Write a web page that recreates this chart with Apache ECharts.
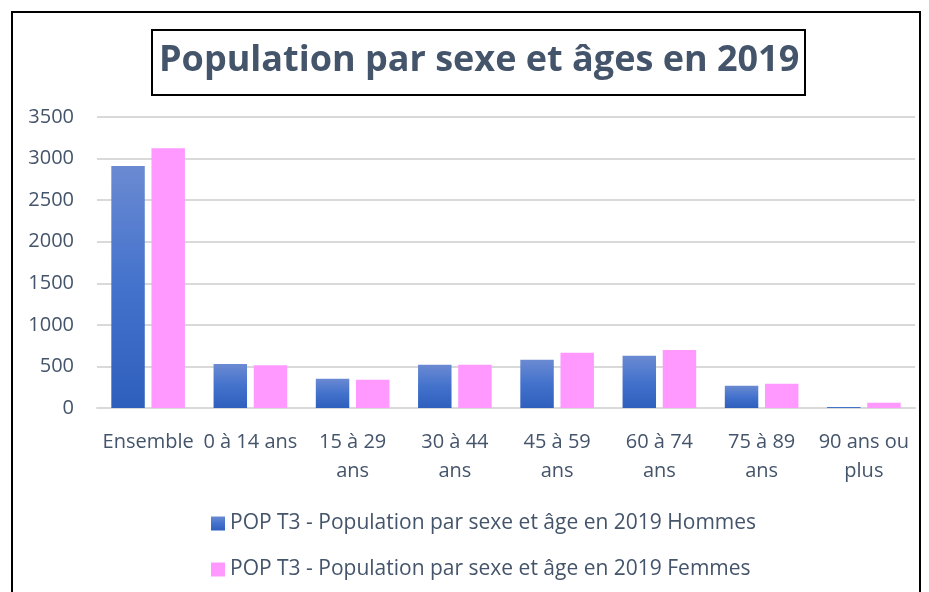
<!DOCTYPE html>
<html lang="fr">
<head>
    <meta charset="UTF-8">
    <script src="https://cdn.jsdelivr.net/npm/echarts@6/dist/echarts.min.js"></script>
    <title>Population par sexe et âges en 2019</title>
    <style>
        html, body { margin: 0; padding: 0; background: #fff; }
        #main { width: 929px; height: 592px; }
    </style>
</head>
<body>
<div id="main"></div>
<script>
    // données
    var categories = ['Ensemble', '0 à 14 ans', '15 à 29\nans', '30 à 44\nans', '45 à 59\nans', '60 à 74\nans', '75 à 89\nans', '90 ans ou\nplus'];
    var hommes = [2912, 529, 353, 521, 581, 629, 268, 12];
    var femmes = [3125, 514, 341, 519, 666, 698, 292, 64];
    var seriesNames = [
        'POP T3 - Population par sexe et âge en 2019 Hommes',
        'POP T3 - Population par sexe et âge en 2019 Femmes'
    ];

    var myChart = echarts.init(document.getElementById('main'));
    var font = 'Open Sans';

    var option = {
        animation: false,
        textStyle: { fontFamily: font },
        graphic: [
            {
                type: 'rect',
                shape: { x: 12, y: 12, width: 908, height: 600 },
                style: { fill: 'none', stroke: '#000', lineWidth: 2 },
                z: -1
            }
        ],
        title: {
            text: 'Population par sexe et âges en 2019',
            left: 152,
            top: 30,
            padding: [13, 6, 16, 7],
            borderColor: '#000',
            borderWidth: 2,
            backgroundColor: '#fff',
            textStyle: {
                fontFamily: font,
                fontSize: 36,
                fontWeight: 'bold',
                color: '#44546a'
            }
        },
        legend: {
            orient: 'vertical',
            left: 206,
            top: 508,
            itemWidth: 14,
            itemHeight: 14,
            itemGap: 25,
            icon: 'rect',
            textStyle: { fontSize: 21, color: '#44546a', fontFamily: font },
            data: seriesNames
        },
        grid: {
            left: 97,
            right: 14,
            top: 117,
            bottom: 184,
            containLabel: false
        },
        xAxis: {
            type: 'category',
            data: categories,
            axisLine: { lineStyle: { color: '#d9d9d9', width: 2 } },
            axisTick: { show: false },
            axisLabel: {
                interval: 0,
                margin: 20,
                fontSize: 20,
                lineHeight: 29,
                color: '#44546a',
                fontFamily: font
            }
        },
        yAxis: {
            type: 'value',
            min: 0,
            max: 3500,
            interval: 500,
            axisLine: { show: false },
            axisTick: { show: false },
            axisLabel: {
                fontSize: 20,
                color: '#44546a',
                margin: 23,
                fontFamily: font,
                formatter: function (v) { return String(v); }
            },
            splitLine: { lineStyle: { color: '#d9d9d9', width: 2 } }
        },
        series: [
            {
                name: seriesNames[0],
                type: 'bar',
                data: hommes,
                barGap: '20%',
                barCategoryGap: '28%',
                itemStyle: {
                    color: new echarts.graphic.LinearGradient(0, 0, 0, 1, [
                        { offset: 0, color: '#6b8ad2' },
                        { offset: 0.5, color: '#4372cc' },
                        { offset: 1, color: '#2f5fbd' }
                    ])
                }
            },
            {
                name: seriesNames[1],
                type: 'bar',
                data: femmes,
                itemStyle: { color: '#ff99ff' }
            }
        ]
    };

    myChart.setOption(option);
</script>
</body>
</html>
